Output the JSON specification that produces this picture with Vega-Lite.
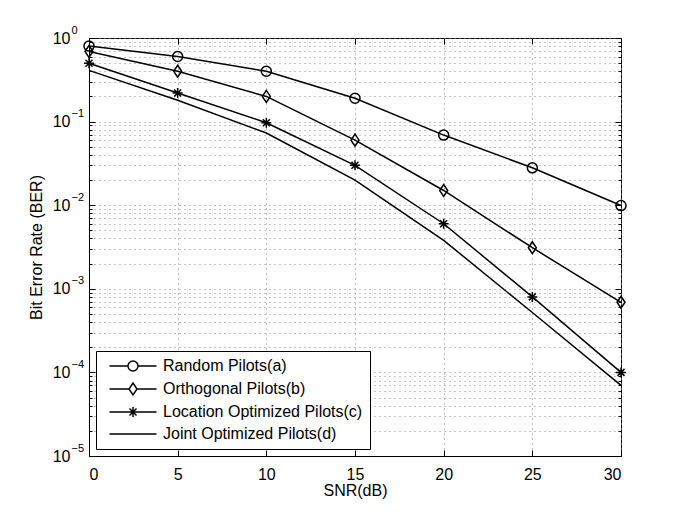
{
  "$schema": "https://vega.github.io/schema/vega-lite/v6.json",
  "width": 532,
  "height": 418,
  "autosize": {"type": "none"},
  "padding": {"left": 89, "top": 38, "right": 64, "bottom": 59},
  "background": "white",
  "config": {
    "view": {"stroke": "black", "strokeWidth": 1},
    "font": "Liberation Sans",
    "axis": {
      "labelFont": "Liberation Sans",
      "titleFont": "Liberation Sans",
      "labelFontSize": 16,
      "titleFontSize": 16,
      "titleFontWeight": "normal",
      "labelColor": "black",
      "titleColor": "black",
      "domainColor": "black",
      "tickColor": "black",
      "gridColor": "#888",
      "gridDash": [1, 4],
      "gridOpacity": 1
    }
  },
  "data": {
    "values": [
      {"series": "Random Pilots(a)", "snr": 0, "ber": 0.80},
      {"series": "Random Pilots(a)", "snr": 5, "ber": 0.60},
      {"series": "Random Pilots(a)", "snr": 10, "ber": 0.40},
      {"series": "Random Pilots(a)", "snr": 15, "ber": 0.19},
      {"series": "Random Pilots(a)", "snr": 20, "ber": 0.069},
      {"series": "Random Pilots(a)", "snr": 25, "ber": 0.028},
      {"series": "Random Pilots(a)", "snr": 30, "ber": 0.0099},
      {"series": "Orthogonal Pilots(b)", "snr": 0, "ber": 0.69},
      {"series": "Orthogonal Pilots(b)", "snr": 5, "ber": 0.40},
      {"series": "Orthogonal Pilots(b)", "snr": 10, "ber": 0.20},
      {"series": "Orthogonal Pilots(b)", "snr": 15, "ber": 0.060},
      {"series": "Orthogonal Pilots(b)", "snr": 20, "ber": 0.015},
      {"series": "Orthogonal Pilots(b)", "snr": 25, "ber": 0.0031},
      {"series": "Orthogonal Pilots(b)", "snr": 30, "ber": 0.00069},
      {"series": "Location Optimized Pilots(c)", "snr": 0, "ber": 0.50},
      {"series": "Location Optimized Pilots(c)", "snr": 5, "ber": 0.22},
      {"series": "Location Optimized Pilots(c)", "snr": 10, "ber": 0.097},
      {"series": "Location Optimized Pilots(c)", "snr": 15, "ber": 0.030},
      {"series": "Location Optimized Pilots(c)", "snr": 20, "ber": 0.0060},
      {"series": "Location Optimized Pilots(c)", "snr": 25, "ber": 0.00080},
      {"series": "Location Optimized Pilots(c)", "snr": 30, "ber": 0.00010},
      {"series": "Joint Optimized Pilots(d)", "snr": 0, "ber": 0.41},
      {"series": "Joint Optimized Pilots(d)", "snr": 5, "ber": 0.18},
      {"series": "Joint Optimized Pilots(d)", "snr": 10, "ber": 0.073},
      {"series": "Joint Optimized Pilots(d)", "snr": 15, "ber": 0.020},
      {"series": "Joint Optimized Pilots(d)", "snr": 20, "ber": 0.0038},
      {"series": "Joint Optimized Pilots(d)", "snr": 25, "ber": 0.00052},
      {"series": "Joint Optimized Pilots(d)", "snr": 30, "ber": 0.00007}
    ]
  },
  "layer": [
    {
      "mark": {"type": "line", "color": "black", "strokeWidth": 1.5},
      "encoding": {
        "x": {
          "field": "snr",
          "type": "quantitative",
          "scale": {"domain": [0, 30], "nice": false},
          "axis": {
            "orient": "bottom",
            "title": "SNR(dB)",
            "values": [0, 5, 10, 15, 20, 25, 30],
            "grid": true,
            "tickSize": -6,
            "labelPadding": 16,
            "titlePadding": 0
          }
        },
        "y": {
          "field": "ber",
          "type": "quantitative",
          "scale": {"type": "log", "domain": [0.00001, 1], "nice": false},
          "axis": {
            "orient": "left",
            "title": "Bit Error Rate (BER)",
            "values": [0.00001, 0.00002, 0.00003, 0.00004, 0.00005, 0.00006, 0.00007, 0.00008, 0.00009,
                       0.0001, 0.0002, 0.0003, 0.0004, 0.0005, 0.0006, 0.0007, 0.0008, 0.0009,
                       0.001, 0.002, 0.003, 0.004, 0.005, 0.006, 0.007, 0.008, 0.009,
                       0.01, 0.02, 0.03, 0.04, 0.05, 0.06, 0.07, 0.08, 0.09,
                       0.1, 0.2, 0.3, 0.4, 0.5, 0.6, 0.7, 0.8, 0.9, 1],
            "labelExpr": "abs(log(datum.value)/LN10 - round(log(datum.value)/LN10)) < 0.001 ? '10' : ''",
            "grid": true,
            "tickSize": {"condition": {"test": "abs(log(datum.value)/LN10 - round(log(datum.value)/LN10)) < 0.001", "value": -6}, "value": -3},
            "labelPadding": 25,
            "labelFontSize": 16,
            "titlePadding": 8
          }
        },
        "detail": {"field": "series"}
      }
    },
    {
      "transform": [{"filter": "datum.series !== 'Joint Optimized Pilots(d)'"}],
      "mark": {"type": "point", "filled": false, "color": "black", "strokeWidth": 1.5, "size": 100, "opacity": 1},
      "encoding": {
        "x": {
          "field": "snr",
          "type": "quantitative",
          "axis": {
            "orient": "top",
            "title": null,
            "values": [0, 5, 10, 15, 20, 25, 30],
            "labels": false,
            "grid": false,
            "domain": false,
            "tickSize": -6
          }
        },
        "y": {
          "field": "ber",
          "type": "quantitative",
          "axis": {
            "orient": "right",
            "title": null,
            "values": [0.00001, 0.00002, 0.00003, 0.00004, 0.00005, 0.00006, 0.00007, 0.00008, 0.00009,
                       0.0001, 0.0002, 0.0003, 0.0004, 0.0005, 0.0006, 0.0007, 0.0008, 0.0009,
                       0.001, 0.002, 0.003, 0.004, 0.005, 0.006, 0.007, 0.008, 0.009,
                       0.01, 0.02, 0.03, 0.04, 0.05, 0.06, 0.07, 0.08, 0.09,
                       0.1, 0.2, 0.3, 0.4, 0.5, 0.6, 0.7, 0.8, 0.9, 1],
            "labels": false,
            "grid": false,
            "domain": false,
            "tickSize": {"condition": {"test": "abs(log(datum.value)/LN10 - round(log(datum.value)/LN10)) < 0.001", "value": -6}, "value": -3}
          }
        },
        "shape": {
          "field": "series",
          "scale": {
            "domain": ["Random Pilots(a)", "Orthogonal Pilots(b)", "Location Optimized Pilots(c)"],
            "range": ["circle", "M0,-1.2L0.8,0L0,1.2L-0.8,0Z", "M0,-1L0,1M-1,0L1,0M-0.7,-0.7L0.7,0.7M-0.7,0.7L0.7,-0.7"]
          },
          "legend": null
        }
      }
    },
    {
      "mark": {"type": "point", "filled": false, "color": "black", "strokeWidth": 1.5, "size": 100, "opacity": 0},
      "encoding": {
        "x": {"field": "snr", "type": "quantitative", "axis": null},
        "y": {
          "field": "ber",
          "type": "quantitative",
          "axis": {
            "orient": "left",
            "title": null,
            "values": [0.00001, 0.0001, 0.001, 0.01, 0.1, 1],
            "labelExpr": "datum.value > 0.5 ? '0' : '−' + format(abs(round(log(datum.value)/LN10)), 'd')",
            "labelAlign": "left",
            "labelFontSize": 11,
            "labelOffset": -8,
            "labelPadding": 18,
            "ticks": false,
            "tickSize": 0,
            "grid": false,
            "domain": false
          }
        },
        "shape": {
          "field": "series",
          "scale": {
            "domain": ["Random Pilots(a)", "Orthogonal Pilots(b)", "Location Optimized Pilots(c)", "Joint Optimized Pilots(d)"],
            "range": [
              "M-4.7,0L-1,0M1,0L4.7,0M1,0A1,1,0,1,1,-1,0A1,1,0,1,1,1,0",
              "M-4.7,0L-0.8,0M0.8,0L4.7,0M0,-1.2L0.8,0L0,1.2L-0.8,0Z",
              "M-4.7,0L4.7,0M0,-1L0,1M-0.7,-0.7L0.7,0.7M-0.7,0.7L0.7,-0.7",
              "M-4.7,0L4.7,0"
            ]
          },
          "legend": {
            "title": null,
            "orient": "bottom-left",
            "offset": 7,
            "strokeColor": "black",
            "fillColor": "white",
            "padding": 7,
            "cornerRadius": 0,
            "labelFont": "Liberation Sans",
            "labelFontSize": 16,
            "labelColor": "black",
            "labelLimit": 400,
            "symbolSize": 100,
            "symbolStrokeWidth": 1.5,
            "symbolStrokeColor": "black",
            "symbolOffset": 22,
            "labelOffset": 22,
            "rowPadding": 6
          }
        }
      }
    }
  ],
  "resolve": {"scale": {"shape": "independent"}, "axis": {"x": "independent", "y": "independent"}}
}
